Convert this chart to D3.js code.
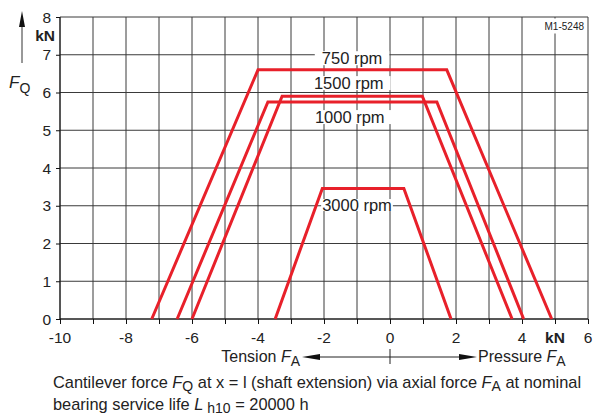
<!DOCTYPE html>
<html><head><meta charset="utf-8">
<script src="https://cdn.jsdelivr.net/npm/d3@7"></script>
<style>
html,body{margin:0;padding:0;background:#fff;}
svg{display:block;font-family:"Liberation Sans",Arial,Helvetica,sans-serif;}
</style></head>
<body>
<svg id="chart" width="595" height="420"></svg>
<script>
// ---- data ----
const xGrid = d3.range(-10, 7, 1);
const yGrid = d3.range(0, 9, 1);
const xTickLabels = [-10, -8, -6, -4, -2, 0, 2, 4, 6];
const yTickLabels = [0, 1, 2, 3, 4, 5, 6, 7, 8];
const speeds = ["750 rpm", "1500 rpm", "1000 rpm", "3000 rpm"];
const curve750x  = [-7.22, -4.0, 1.72, 4.9];
const curve750y  = [0, 6.6, 6.6, 0];
const curve1500x = [-6.0, -3.27, 0.98, 3.7];
const curve1500y = [0, 5.9, 5.9, 0];
const curve1000x = [-6.45, -3.7, 1.42, 4.05];
const curve1000y = [0, 5.75, 5.75, 0];
const curve3000x = [-3.48, -2.05, 0.42, 1.85];
const curve3000y = [0, 3.46, 3.46, 0];
const curvesX = [curve750x, curve1500x, curve1000x, curve3000x];
const curvesY = [curve750y, curve1500y, curve1000y, curve3000y];

// ---- drawing ----
const svg = d3.select("#chart");
const x = d3.scaleLinear().domain([-10, 6]).range([60, 588]);
const y = d3.scaleLinear().domain([0, 8]).range([319, 17]);
const gridColor = "#3a3a3a";
const red = "#e8202a";
const txt = "#222";

const g = svg.append("g");
g.selectAll("line.vg").data(xGrid).join("line")
  .attr("x1", d => x(d)).attr("x2", d => x(d))
  .attr("y1", y(0)).attr("y2", y(8))
  .attr("stroke", gridColor).attr("stroke-width", 1);
g.selectAll("line.hg").data(yGrid).join("line")
  .attr("y1", d => y(d)).attr("y2", d => y(d))
  .attr("x1", x(-10)).attr("x2", x(6))
  .attr("stroke", gridColor).attr("stroke-width", 1);

const xAxis = d3.axisBottom(x).tickValues(xGrid).tickSize(5).tickFormat("");
const xa = svg.append("g").attr("transform", `translate(0,${y(0)})`).call(xAxis);
xa.select(".domain").attr("stroke", "#111").attr("d", `M${x(-10)},0H${x(6)}`);
xa.selectAll(".tick line").attr("stroke", "#111");
const yAxis = d3.axisLeft(y).tickValues(yGrid).tickSize(4).tickFormat("");
const ya = svg.append("g").attr("transform", `translate(${x(-10)},0)`).call(yAxis);
ya.select(".domain").attr("stroke", "#111").attr("d", `M0,${y(0)}V${y(8)}`);
ya.selectAll(".tick line").attr("stroke", "#111");

svg.selectAll("text.xl").data(xTickLabels).join("text")
  .attr("x", d => x(d)).attr("y", y(0) + 24)
  .attr("text-anchor", "middle").attr("font-size", 15.5).attr("fill", txt)
  .text(d => d);
svg.append("text").attr("x", x(5)).attr("y", y(0) + 24)
  .attr("text-anchor", "middle").attr("font-size", 15.5).attr("font-weight", "bold").attr("fill", txt).text("kN");
svg.selectAll("text.yl").data(yTickLabels).join("text")
  .attr("x", x(-10) - 9).attr("y", d => y(d) + 5.5)
  .attr("text-anchor", "end").attr("font-size", 15.5).attr("fill", txt)
  .text(d => d);
svg.append("text").attr("x", x(-10) - 5).attr("y", y(7.5) + 5.5)
  .attr("text-anchor", "end").attr("font-size", 15.5).attr("font-weight", "bold").attr("fill", txt).text("kN");

svg.append("line").attr("x1", 22).attr("x2", 22).attr("y1", 63).attr("y2", 22)
  .attr("stroke", "#333").attr("stroke-width", 1);
svg.append("path").attr("d", "M22,11 L19,27 L25,27 Z").attr("fill", "#111");
const fq = svg.append("text").attr("x", 9).attr("y", 88).attr("font-size", 17).attr("fill", txt);
fq.append("tspan").attr("font-style", "italic").text("F");
fq.append("tspan").attr("font-size", 14).attr("dy", 5).text("Q");

svg.append("rect").attr("x", 536).attr("y", 18.5).attr("width", 51).attr("height", 15).attr("fill", "#fff");
svg.append("text").attr("x", 584).attr("y", 30).attr("text-anchor", "end")
  .attr("font-size", 10).attr("fill", txt).text("M1-5248");

// rpm labels with white backgrounds
const labelPos = [[-1.15, 6.75], [-1.25, 6.09], [-1.22, 5.19], [-1.0, 2.86]];
const lg = svg.append("g");
speeds.forEach((s, i) => {
  lg.append("text").attr("x", x(labelPos[i][0])).attr("y", y(labelPos[i][1]))
    .attr("text-anchor", "middle").attr("font-size", 16.5).attr("fill", txt).text(s);
});
lg.selectAll("text").each(function(d, i) {
  const b = this.getBBox();
  if (i === 3) return;
  lg.insert("rect", "text").attr("x", b.x - 7).attr("y", b.y + 2).attr("width", b.width + 14).attr("height", b.height - 4).attr("fill", "#fff");
});

const line = d3.line().x(d => x(d[0])).y(d => y(d[1]));
curvesX.forEach((cx, i) => {
  const pts = cx.map((v, j) => [v, curvesY[i][j]]);
  svg.append("path").attr("d", line(pts)).attr("fill", "none")
    .attr("stroke", red).attr("stroke-width", 3).attr("stroke-linejoin", "miter");
});
{
  const t = lg.selectAll("text").filter((d, i) => i === 3).node();
  const b = t.getBBox();
  svg.append("rect").attr("x", b.x - 1).attr("y", b.y + 3).attr("width", b.width + 2).attr("height", b.height - 6).attr("fill", "#fff");
  svg.append("text").attr("x", x(labelPos[3][0])).attr("y", y(labelPos[3][1]))
    .attr("text-anchor", "middle").attr("font-size", 16.5).attr("fill", txt).text(speeds[3]);
}

// tension/pressure arrow
const ay = 357;
svg.append("line").attr("x1", 312).attr("x2", 468).attr("y1", ay).attr("y2", ay).attr("stroke", "#222");
svg.append("path").attr("d", `M302,${ay} L320,${ay-3} L320,${ay+3} Z`).attr("fill", "#111");
svg.append("path").attr("d", `M477,${ay} L459,${ay-3} L459,${ay+3} Z`).attr("fill", "#111");
svg.append("line").attr("x1", x(0)).attr("x2", x(0)).attr("y1", ay - 8).attr("y2", ay + 7).attr("stroke", "#222");
const tt = svg.append("text").attr("x", 300).attr("y", ay + 5).attr("text-anchor", "end").attr("font-size", 16).attr("fill", txt);
tt.append("tspan").text("Tension ");
tt.append("tspan").attr("font-style", "italic").text("F");
tt.append("tspan").attr("font-size", 14).attr("dy", 4).text("A");
const pt = svg.append("text").attr("x", 478).attr("y", ay + 5).attr("font-size", 16).attr("fill", txt);
pt.append("tspan").text("Pressure ");
pt.append("tspan").attr("font-style", "italic").text("F");
pt.append("tspan").attr("font-size", 14).attr("dy", 4).text("A");

// caption
const c1 = svg.append("text").attr("x", 53).attr("y", 387.5).attr("font-size", 16.4).attr("fill", txt);
c1.append("tspan").text("Cantilever force ");
c1.append("tspan").attr("font-style", "italic").text("F");
c1.append("tspan").attr("font-size", 14).attr("dy", 3).text("Q");
c1.append("tspan").attr("dy", -3).text(" at x = l (shaft extension) via axial force ");
c1.append("tspan").attr("font-style", "italic").text("F");
c1.append("tspan").attr("font-size", 14).attr("dy", 3).text("A");
c1.append("tspan").attr("dy", -3).text(" at nominal");
const c2 = svg.append("text").attr("x", 53).attr("y", 409.5).attr("font-size", 16.4).attr("fill", txt);
c2.append("tspan").text("bearing service life ");
c2.append("tspan").attr("font-style", "italic").text("L");
c2.append("tspan").attr("font-size", 14).attr("dy", 3).text(" h10");
c2.append("tspan").attr("dy", -3).text(" = 20000 h");
</script>
</body></html>
